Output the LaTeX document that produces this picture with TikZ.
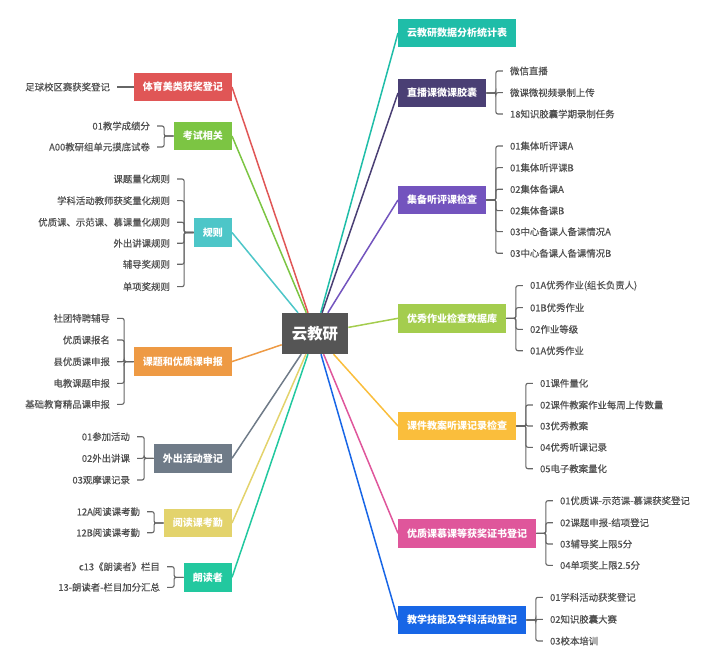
\documentclass[tikz,border=0pt]{standalone}
\usepackage{fontspec}
\setmainfont{Noto Sans CJK SC}
\newfontfamily\leaffont{Noto Sans CJK SC}[FakeBold=0.35]
\definecolor{c0}{HTML}{555555}
\definecolor{txt}{HTML}{505050}
\definecolor{brc}{HTML}{666666}
\definecolor{cRed}{HTML}{E05656}
\definecolor{cGreen}{HTML}{7CC543}
\definecolor{cTeal}{HTML}{4DC6C8}
\definecolor{cOrange}{HTML}{EE9A44}
\definecolor{cSlate}{HTML}{6F7B88}
\definecolor{cYellow}{HTML}{E3D36C}
\definecolor{cMint}{HTML}{22C89F}
\definecolor{cSea}{HTML}{1FBDA8}
\definecolor{cDark}{HTML}{4A3F74}
\definecolor{cPurple}{HTML}{7354BE}
\definecolor{cLime}{HTML}{A4CD4E}
\definecolor{cAmber}{HTML}{FABE3C}
\definecolor{cPink}{HTML}{DF569B}
\definecolor{cBlue}{HTML}{1866E6}
\tikzset{
  topic/.style={fill=#1, text=white, font=\bfseries\fontsize{10}{12}\selectfont, inner xsep=9pt, inner ysep=0pt, minimum height=28.5pt},
  leaf/.style={text=txt, font=\leaffont\fontsize{9.4}{11}\selectfont, inner sep=0pt},
  br/.style={draw=brc, line width=1.1pt, rounded corners=2pt},
  link/.style={draw=#1, line width=1.5pt},
  lleaf/.style={leaf, anchor=east, xshift=-23.5pt},
  rleaf/.style={leaf, anchor=west, xshift=23.5pt},
}
\begin{document}
\begin{tikzpicture}[x=1pt,y=-1pt]
\useasboundingbox (0,0) rectangle (720,668);
% center
\node[fill=c0, text=white, font=\bfseries\fontsize{15.4}{18}\selectfont, inner xsep=10pt, inner ysep=0pt, minimum height=41pt] (c) at (315,333.5) {云教研};

% ---------- left topics ----------
\node[topic=cRed, anchor=east] (tiyu) at (232,87) {体育美类获奖登记};
\node[topic=cGreen, anchor=east] (kaoshi) at (232,136) {考试相关};
\node[topic=cTeal, anchor=east] (guize) at (232,232.5) {规则};
\node[topic=cOrange, anchor=east] (keti) at (232,361.6) {课题和优质课申报};
\node[topic=cSlate, anchor=east] (waichu) at (232,458.3) {外出活动登记};
\node[topic=cYellow, anchor=east] (yuedu) at (232,523) {阅读课考勤};
\node[topic=cMint, anchor=east] (langdu) at (232,577.3) {朗读者};

% ---------- right topics ----------
\node[topic=cSea, anchor=west] (tongji) at (398,33) {云教研数据分析统计表};
\node[topic=cDark, anchor=west] (zhibo) at (398,93) {直播课微课胶囊};
\node[topic=cPurple, anchor=west] (jibei) at (398,200) {集备听评课检查};
\node[topic=cLime, anchor=west] (youxiu) at (398,318.3) {优秀作业检查数据库};
\node[topic=cAmber, anchor=west] (kejian) at (398,426) {课件教案听课记录检查};
\node[topic=cPink, anchor=west] (youzhi) at (398,533.3) {优质课慕课等获奖证书登记};
\node[topic=cBlue, anchor=west] (jineng) at (398,620) {教学技能及学科活动登记};

% ---------- links from center ----------
\draw[link=cRed] (tiyu.east) -- (c);
\draw[link=cGreen] (kaoshi.east) -- (c);
\draw[link=cTeal] (guize.east) -- (c);
\draw[link=cOrange] (keti.east) -- (c);
\draw[link=cSlate] (waichu.east) -- (c);
\draw[link=cYellow] (yuedu.east) -- (c);
\draw[link=cMint] (langdu.east) -- (c);
\draw[link=cSea] (c) -- (tongji.west);
\draw[link=cDark] (c) -- (zhibo.west);
\draw[link=cPurple] (c) -- (jibei.west);
\draw[link=cLime] (c) -- (youxiu.west);
\draw[link=cAmber] (c) -- (kejian.west);
\draw[link=cPink] (c) -- (youzhi.west);
\draw[link=cBlue] (c) -- (jineng.west);

% ---------- left leaves ----------
\node[lleaf] (t1) at (tiyu.west |- 0,87) {足球校区赛获奖登记};
\draw[br] (tiyu.west) -- ([xshift=7pt]t1.east);

\node[lleaf] (k1) at (kaoshi.west |- 0,126) {01教学成绩分};
\node[lleaf] (k2) at (kaoshi.west |- 0,147) {A00教研组单元摸底试卷};
\foreach \n in {k1,k2} \draw[br] (kaoshi.west) -- ++(-9.5,0) |- ([xshift=7pt]\n.east);

\node[lleaf] (g1) at (guize.west |- 0,179) {课题量化规则};
\node[lleaf] (g2) at (guize.west |- 0,200.7) {学科活动教师获奖量化规则};
\node[lleaf] (g3) at (guize.west |- 0,222.3) {优质课、示范课、慕课量化规则};
\node[lleaf] (g4) at (guize.west |- 0,243.3) {外出讲课规则};
\node[lleaf] (g5) at (guize.west |- 0,264.3) {辅导奖规则};
\node[lleaf] (g6) at (guize.west |- 0,286.7) {单项奖规则};
\foreach \n in {g1,g2,g3,g4,g5,g6} \draw[br] (guize.west) -- ++(-9.5,0) |- ([xshift=7pt]\n.east);

\node[lleaf] (q1) at (keti.west |- 0,318.3) {社团特聘辅导};
\node[lleaf] (q2) at (keti.west |- 0,340) {优质课报名};
\node[lleaf] (q3) at (keti.west |- 0,361.7) {县优质课申报};
\node[lleaf] (q4) at (keti.west |- 0,383.3) {电教课题申报};
\node[lleaf] (q5) at (keti.west |- 0,404.3) {基础教育精品课申报};
\foreach \n in {q1,q2,q3,q4,q5} \draw[br] (keti.west) -- ++(-9.5,0) |- ([xshift=7pt]\n.east);

\node[lleaf] (w1) at (waichu.west |- 0,436.7) {01参加活动};
\node[lleaf] (w2) at (waichu.west |- 0,458.3) {02外出讲课};
\node[lleaf] (w3) at (waichu.west |- 0,480) {03观摩课记录};
\foreach \n in {w1,w2,w3} \draw[br] (waichu.west) -- ++(-9.5,0) |- ([xshift=7pt]\n.east);

\node[lleaf] (y1) at (yuedu.west |- 0,511.7) {12A阅读课考勤};
\node[lleaf] (y2) at (yuedu.west |- 0,532.7) {12B阅读课考勤};
\foreach \n in {y1,y2} \draw[br] (yuedu.west) -- ++(-9.5,0) |- ([xshift=7pt]\n.east);

\node[lleaf] (l1) at (langdu.west |- 0,566.7) {c13《朗读者》栏目};
\node[lleaf] (l2) at (langdu.west |- 0,587.3) {13-朗读者-栏目加分汇总};
\foreach \n in {l1,l2} \draw[br] (langdu.west) -- ++(-9.5,0) |- ([xshift=7pt]\n.east);

% ---------- right leaves ----------
\node[rleaf] (z1) at (zhibo.east |- 0,71) {微信直播};
\node[rleaf] (z2) at (zhibo.east |- 0,92.7) {微课微视频录制上传};
\node[rleaf] (z3) at (zhibo.east |- 0,114) {18知识胶囊学期录制任务};
\foreach \n in {z1,z2,z3} \draw[br] (zhibo.east) -- ++(9.5,0) |- ([xshift=-7pt]\n.west);

\node[rleaf] (j1) at (jibei.east |- 0,146) {01集体听评课A};
\node[rleaf] (j2) at (jibei.east |- 0,167.7) {01集体听评课B};
\node[rleaf] (j3) at (jibei.east |- 0,189.3) {02集体备课A};
\node[rleaf] (j4) at (jibei.east |- 0,210.7) {02集体备课B};
\node[rleaf] (j5) at (jibei.east |- 0,231.7) {03中心备课人备课情况A};
\node[rleaf] (j6) at (jibei.east |- 0,253.3) {03中心备课人备课情况B};
\foreach \n in {j1,j2,j3,j4,j5,j6} \draw[br] (jibei.east) -- ++(9.5,0) |- ([xshift=-7pt]\n.west);

\node[rleaf] (x1) at (youxiu.east |- 0,285.7) {01A优秀作业(组长负责人)};
\node[rleaf] (x2) at (youxiu.east |- 0,307.7) {01B优秀作业};
\node[rleaf] (x3) at (youxiu.east |- 0,329.3) {02作业等级};
\node[rleaf] (x4) at (youxiu.east |- 0,350.7) {01A优秀作业};
\foreach \n in {x1,x2,x3,x4} \draw[br] (youxiu.east) -- ++(9.5,0) |- ([xshift=-7pt]\n.west);

\node[rleaf] (e1) at (kejian.east |- 0,383.3) {01课件量化};
\node[rleaf] (e2) at (kejian.east |- 0,405) {02课件教案作业每周上传数量};
\node[rleaf] (e3) at (kejian.east |- 0,426) {03优秀教案};
\node[rleaf] (e4) at (kejian.east |- 0,447.3) {04优秀听课记录};
\node[rleaf] (e5) at (kejian.east |- 0,468.7) {05电子教案量化};
\foreach \n in {e1,e2,e3,e4,e5} \draw[br] (kejian.east) -- ++(9.5,0) |- ([xshift=-7pt]\n.west);

\node[rleaf] (p1) at (youzhi.east |- 0,500.7) {01优质课-示范课-慕课获奖登记};
\node[rleaf] (p2) at (youzhi.east |- 0,522.7) {02课题申报-结项登记};
\node[rleaf] (p3) at (youzhi.east |- 0,544) {03辅导奖上限5分};
\node[rleaf] (p4) at (youzhi.east |- 0,565.3) {04单项奖上限2.5分};
\foreach \n in {p1,p2,p3,p4} \draw[br] (youzhi.east) -- ++(9.5,0) |- ([xshift=-7pt]\n.west);

\node[rleaf] (s1) at (jineng.east |- 0,597.3) {01学科活动获奖登记};
\node[rleaf] (s2) at (jineng.east |- 0,619.3) {02知识胶囊大赛};
\node[rleaf] (s3) at (jineng.east |- 0,641) {03校本培训};
\foreach \n in {s1,s2,s3} \draw[br] (jineng.east) -- ++(9.5,0) |- ([xshift=-7pt]\n.west);
\end{tikzpicture}
\end{document}
